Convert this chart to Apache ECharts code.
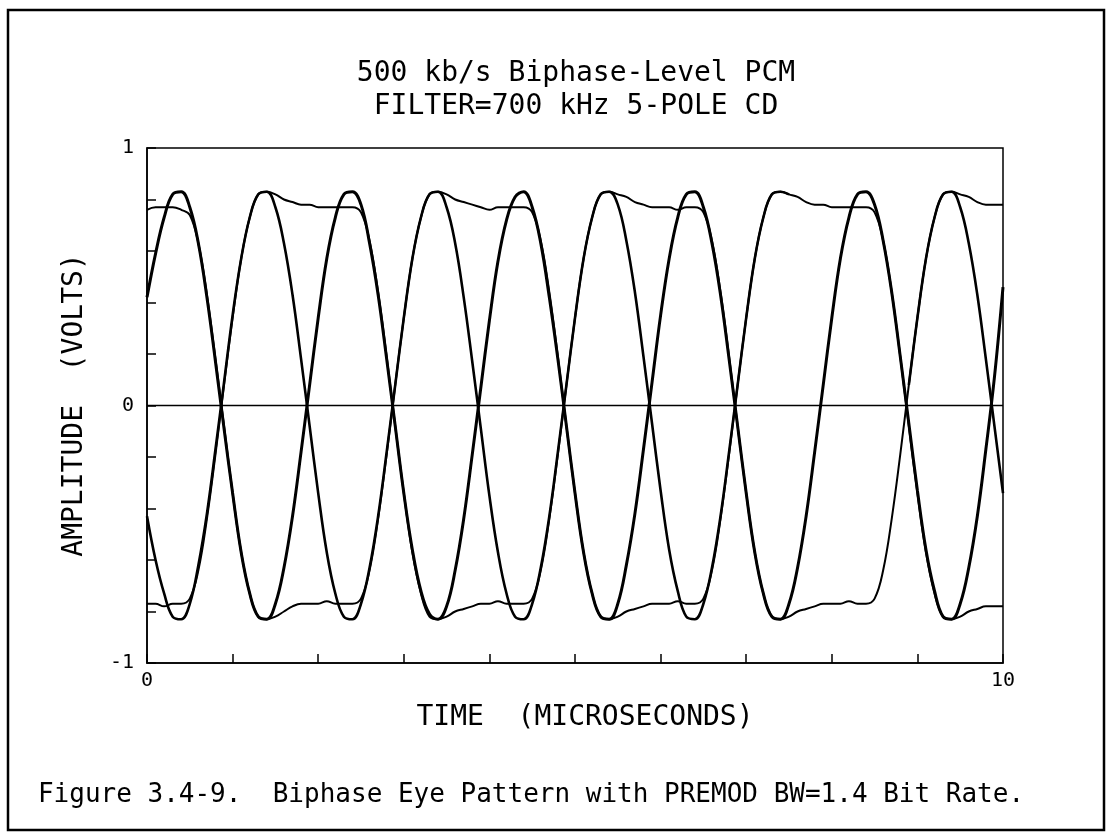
<!DOCTYPE html>
<html>
<head>
<meta charset="utf-8">
<title>Biphase Eye Pattern</title>
<script src="https://cdn.jsdelivr.net/npm/echarts@6/dist/echarts.min.js"></script>
<style>
html, body { margin: 0; padding: 0; background: #fff; }
#chart { width: 1112px; height: 839px; }
</style>
</head>
<body>
<div id="chart"></div>
<script>
// sample times, microseconds
var timeUs = [
	0.0, 0.1, 0.2, 0.3, 0.4, 0.5, 0.6, 0.7, 0.8, 0.9,
	1.0, 1.1, 1.2, 1.3, 1.4, 1.5, 1.6, 1.7, 1.8, 1.9,
	2.0, 2.1, 2.2, 2.3, 2.4, 2.5, 2.6, 2.7, 2.8, 2.9,
	3.0, 3.1, 3.2, 3.3, 3.4, 3.5, 3.6, 3.7, 3.8, 3.9,
	4.0, 4.1, 4.2, 4.3, 4.4, 4.5, 4.6, 4.7, 4.8, 4.9,
	5.0, 5.1, 5.2, 5.3, 5.4, 5.5, 5.6, 5.7, 5.8, 5.9,
	6.0, 6.1, 6.2, 6.3, 6.4, 6.5, 6.6, 6.7, 6.8, 6.9,
	7.0, 7.1, 7.2, 7.3, 7.4, 7.5, 7.6, 7.7, 7.8, 7.9,
	8.0, 8.1, 8.2, 8.3, 8.4, 8.5, 8.6, 8.7, 8.8, 8.9,
	9.0, 9.1, 9.2, 9.3, 9.4, 9.5, 9.6, 9.7, 9.8, 9.9,
	10.0
];

// sweep with single half-bit pulses, peaks at 0.4, 2.4, ...
var sweepA = [
	0.42, 0.59, 0.73, 0.82, 0.83, 0.77, 0.63, 0.42, 0.17, -0.09,
	-0.34, -0.57, -0.73, -0.82, -0.83, -0.77, -0.63, -0.43, -0.18, 0.08,
	0.34, 0.57, 0.73, 0.82, 0.83, 0.78, 0.63, 0.43, 0.18, -0.08,
	-0.34, -0.56, -0.72, -0.81, -0.83, -0.78, -0.64, -0.44, -0.19, 0.07,
	0.33, 0.56, 0.72, 0.81, 0.83, 0.77, 0.63, 0.42, 0.18, -0.08,
	-0.34, -0.57, -0.73, -0.82, -0.83, -0.77, -0.62, -0.42, -0.17, 0.09,
	0.35, 0.57, 0.73, 0.82, 0.83, 0.77, 0.63, 0.43, 0.18, -0.08,
	-0.34, -0.57, -0.73, -0.82, -0.83, -0.77, -0.63, -0.43, -0.18, 0.08,
	0.34, 0.57, 0.73, 0.82, 0.83, 0.78, 0.64, 0.44, 0.19, -0.07,
	-0.33, -0.56, -0.72, -0.82, -0.83, -0.77, -0.63, -0.43, -0.17, 0.11,
	0.46
];

// sweep with single half-bit pulses, peaks at 1.4, 3.4, ... (no trace 7.5 - 8.8)
var sweepB = [
	-0.43, -0.60, -0.73, -0.82, -0.83, -0.77, -0.62, -0.42, -0.17, 0.09,
	0.35, 0.57, 0.73, 0.82, 0.83, 0.77, 0.63, 0.43, 0.18, -0.08,
	-0.34, -0.57, -0.73, -0.82, -0.83, -0.77, -0.63, -0.43, -0.18, 0.08,
	0.34, 0.57, 0.73, 0.82, 0.83, 0.77, 0.63, 0.42, 0.17, -0.09,
	-0.35, -0.57, -0.73, -0.82, -0.83, -0.77, -0.63, -0.43, -0.18, 0.08,
	0.34, 0.57, 0.73, 0.82, 0.83, 0.78, 0.64, 0.44, 0.19, -0.07,
	-0.33, -0.56, -0.72, -0.82, -0.83, -0.77, -0.63, -0.43, -0.18, 0.08,
	0.34, 0.57, 0.73, 0.82, 0.83, 0.82, null, null, null, null,
	null, null, null, null, null, null, null, null, null, 0.08,
	0.34, 0.57, 0.73, 0.82, 0.83, 0.77, 0.63, 0.43, 0.18, -0.08,
	-0.34
];

// sweep with double half-bit pulses, high 0.87 - 2.87, 4.87 - 6.87, 8.87 -
var sweepC = [
	-0.77, -0.77, -0.78, -0.77, -0.77, -0.75, -0.64, -0.44, -0.19, 0.08,
	0.34, 0.57, 0.73, 0.82, 0.83, 0.82, 0.80, 0.79, 0.78, 0.78,
	0.77, 0.77, 0.77, 0.77, 0.77, 0.75, 0.64, 0.44, 0.19, -0.08,
	-0.34, -0.57, -0.73, -0.82, -0.83, -0.82, -0.80, -0.79, -0.78, -0.77,
	-0.77, -0.76, -0.77, -0.77, -0.77, -0.75, -0.64, -0.44, -0.19, 0.08,
	0.34, 0.57, 0.73, 0.82, 0.83, 0.82, 0.81, 0.79, 0.78, 0.77,
	0.77, 0.77, 0.76, 0.77, 0.77, 0.75, 0.64, 0.44, 0.19, -0.08,
	-0.34, -0.57, -0.73, -0.82, -0.83, -0.82, -0.80, -0.79, -0.78, -0.77,
	-0.77, -0.77, -0.76, -0.77, -0.77, -0.75, -0.64, -0.44, -0.19, 0.08,
	0.34, 0.57, 0.73, 0.82, 0.83, 0.82, 0.81, 0.79, 0.78, 0.78,
	0.78
];

// sweep with double half-bit pulses, high - 0.87, 2.87 - 4.87, 6.87 - 8.87
var sweepD = [
	0.76, 0.77, 0.77, 0.77, 0.76, 0.74, 0.63, 0.43, 0.18, -0.08,
	-0.34, -0.57, -0.73, -0.82, -0.83, -0.82, -0.80, -0.78, -0.77, -0.77,
	-0.77, -0.76, -0.77, -0.77, -0.77, -0.75, -0.64, -0.44, -0.19, 0.08,
	0.34, 0.57, 0.73, 0.82, 0.83, 0.82, 0.80, 0.79, 0.78, 0.77,
	0.76, 0.77, 0.77, 0.77, 0.77, 0.75, 0.64, 0.44, 0.19, -0.08,
	-0.34, -0.57, -0.73, -0.82, -0.83, -0.82, -0.80, -0.79, -0.78, -0.77,
	-0.77, -0.77, -0.76, -0.77, -0.77, -0.75, -0.64, -0.44, -0.19, 0.08,
	0.34, 0.57, 0.73, 0.82, 0.83, 0.82, 0.81, 0.79, 0.78, 0.78,
	0.77, 0.77, 0.77, 0.77, 0.77, 0.75, 0.64, 0.44, 0.19, -0.08,
	-0.34, -0.57, -0.73, -0.82, -0.83, -0.82, -0.80, -0.79, -0.78, -0.78,
	-0.78
];

var xTickLabels = ['0', '10'];
var yTickLabels = ['-1', '0', '1'];

var titleLines = ['500 kb/s Biphase-Level PCM', 'FILTER=700 kHz 5-POLE CD'];
var xName = 'TIME  (MICROSECONDS)';
var yName = 'AMPLITUDE  (VOLTS)';
var caption = 'Figure 3.4-9.  Biphase Eye Pattern with PREMOD BW=1.4 Bit Rate.';

var monoFont = '"DejaVu Sans Mono", "Liberation Mono", monospace';

function pairs(values) {
	return timeUs.map(function(t, i) {
		return [t, values[i]];
	});
}

function traceSeries(name, values, width) {
	return {
		name: name,
		type: 'line',
		data: pairs(values),
		showSymbol: false,
		smooth: 0.4,
		connectNulls: false,
		lineStyle: {
			color: '#000',
			width: width
		},
		z: 3
	};
}

var chart = echarts.init(document.getElementById('chart'), null, { renderer: 'canvas' });

var zeroSeries = traceSeries('A', sweepA, 3);
zeroSeries.markLine = {
	silent: true,
	symbol: 'none',
	animation: false,
	label: { show: false },
	lineStyle: { color: '#000', width: 1.3, type: 'solid' },
	data: [{ yAxis: 0 }]
};

var option = {
	backgroundColor: '#fff',
	animation: false,
	grid: {
		left: 147,
		right: 109,
		top: 148,
		bottom: 176,
		show: true,
		borderColor: '#000',
		borderWidth: 1.5
	},
	xAxis: {
		type: 'value',
		min: 0,
		max: 10,
		interval: 1,
		axisLine: { onZero: false, lineStyle: { color: '#000', width: 1.5 } },
		axisTick: { inside: true, length: 9, lineStyle: { color: '#000', width: 1.5 } },
		axisLabel: {
			color: '#000',
			fontSize: 20,
			fontFamily: monoFont,
			margin: 8,
			formatter: function(v) {
				var s = String(Math.round(v));
				return xTickLabels.indexOf(s) >= 0 ? s : '';
			}
		},
		splitLine: { show: false }
	},
	yAxis: {
		type: 'value',
		min: -1,
		max: 1,
		interval: 0.2,
		axisLine: { lineStyle: { color: '#000', width: 1.5 } },
		axisTick: { inside: true, length: 9, lineStyle: { color: '#000', width: 1.5 } },
		axisLabel: {
			color: '#000',
			fontSize: 20,
			fontFamily: monoFont,
			margin: 13,
			formatter: function(v) {
				if (Math.abs(v - Math.round(v)) > 1e-6) return '';
				var s = String(Math.round(v));
				return yTickLabels.indexOf(s) >= 0 ? s : '';
			}
		},
		splitLine: { show: false }
	},
	series: [
		zeroSeries,
		traceSeries('B', sweepB, 2.6),
		traceSeries('C', sweepC, 2),
		traceSeries('D', sweepD, 2)
	],
	graphic: [{
		type: 'rect',
		shape: { x: 8, y: 10, width: 1096, height: 820 },
		style: { fill: 'none', stroke: '#000', lineWidth: 2.5 },
		silent: true
	}, {
		type: 'text',
		x: 576,
		y: 74,
		style: { text: titleLines[0], font: '28px ' + monoFont, fill: '#000', textAlign: 'center', textVerticalAlign: 'middle' }
	}, {
		type: 'text',
		x: 576,
		y: 107,
		style: { text: titleLines[1], font: '28px ' + monoFont, fill: '#000', textAlign: 'center', textVerticalAlign: 'middle' }
	}, {
		type: 'text',
		x: 585,
		y: 718,
		style: { text: xName, font: '28px ' + monoFont, fill: '#000', textAlign: 'center', textVerticalAlign: 'middle' }
	}, {
		type: 'text',
		x: 75,
		y: 405,
		rotation: Math.PI / 2,
		style: { text: yName, font: '28px ' + monoFont, fill: '#000', textAlign: 'center', textVerticalAlign: 'middle' }
	}, {
		type: 'text',
		x: 531,
		y: 795,
		style: { text: caption, font: '26px ' + monoFont, fill: '#000', textAlign: 'center', textVerticalAlign: 'middle' }
	}]
};

chart.setOption(option);
</script>
</body>
</html>
